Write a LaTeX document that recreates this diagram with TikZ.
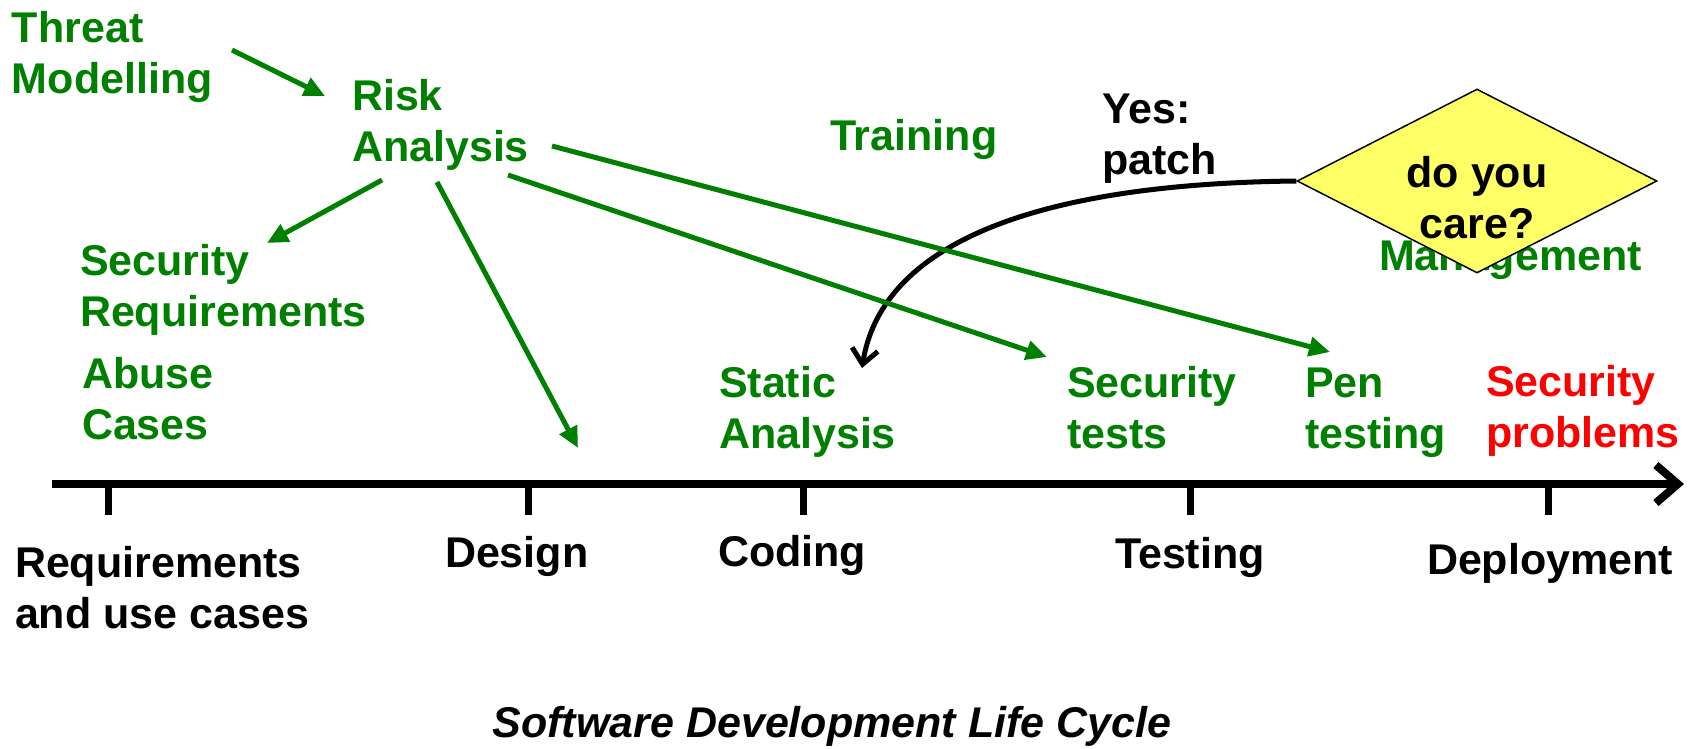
\documentclass[tikz,border=0pt]{standalone}
\usepackage{fontspec}
\setmainfont{Liberation Sans}
\usetikzlibrary{arrows.meta,shapes.geometric}
\definecolor{sdgreen}{RGB}{0,128,0}
\definecolor{sdred}{RGB}{255,0,0}
\definecolor{sdyellow}{RGB}{255,255,102}
% block of lines whose baseline is the first line
\newcommand{\leftlines}[1]{\begin{tabular}[t]{@{}l@{}}#1\end{tabular}}
\newcommand{\midlines}[1]{\begin{tabular}[t]{@{}c@{}}#1\end{tabular}}

\begin{document}
\begin{tikzpicture}[x=1pt,y=-1pt,
  lbl/.style={anchor=base west, inner sep=0pt, outer sep=0pt,
              font=\fontsize{43}{51}\selectfont\bfseries},
  grn/.style={lbl, text=sdgreen},
  blk/.style={lbl, text=black},
  redlbl/.style={lbl, text=sdred},
  garrow/.style={draw=sdgreen, line width=5pt,
                 -{Triangle[length=21pt,width=19pt]}},
  patcharrow/.style={draw=black, line width=5pt,
                 -{Straight Barb[length=15pt,width=26pt]}},
  axisline/.style={draw=black, line width=8pt,
                 -{Straight Barb[length=22pt,width=38pt]}},
  tick/.style={draw=black, line width=7pt},
  decision/.style={shape=diamond, draw=black, line width=1.5pt,
                 fill=sdyellow, minimum width=360pt, minimum height=184pt,
                 aspect=1.96, inner sep=0pt}
]
\useasboundingbox (0,0) rectangle (1694,748);

% activities above the time line
\node[grn] (threat)   at (12,42)   {\leftlines{Threat\\Modelling}};
\node[grn] (risk)     at (352,110) {\leftlines{Risk\\Analysis}};
\node[grn] (secreq)   at (80,275)  {\leftlines{Security\\Requirements}};
\node[grn] (abuse)    at (82,388)  {\leftlines{Abuse\\Cases}};
\node[grn] (training) at (830,150) {Training};
\node[blk] (yes)      at (1102,123) {\leftlines{Yes:\\patch}};
\node[grn] (mgmt)     at (1379,270) {Management};

% the decision box sits over the Management label
\node[decision] (care) at (1477,181) {};
\node[blk, anchor=base] (caretext) at (1477,187) {\midlines{do you\\care?}};

\node[grn] (static)   at (719,397)  {\leftlines{Static\\Analysis}};
\node[grn] (sectests) at (1067,397) {\leftlines{Security\\tests}};
\node[grn] (pen)      at (1305,397) {\leftlines{Pen\\testing}};
\node[redlbl] (problems) at (1486,396) {\leftlines{Security\\problems}};

% time line with its phase marks
\coordinate (axisL) at (52,484);
\coordinate (axisR) at (1684,484);
\draw[axisline] (axisL) -- (axisR);
\foreach \name/\x in {req/108, des/528, cod/803, tst/1190, dep/1548}{
  \coordinate (\name-top) at (\x,486);
  \coordinate (\name-bot) at (\x,515);
  \draw[tick] (\name-top) -- (\name-bot);
}

\node[blk] (requirements) at (15,577)   {\leftlines{Requirements\\and use cases}};
\node[blk] (design)       at (445,567)  {Design};
\node[blk] (coding)       at (718,566)  {Coding};
\node[blk] (testing)      at (1115,568) {Testing};
\node[blk] (deployment)   at (1427,574) {Deployment};

\node[anchor=base, inner sep=0pt,
      font=\fontsize{43}{50}\selectfont\bfseries\itshape] (sdlc)
      at (832,737) {Software Development Life Cycle};

% the patch loop back to coding
\coordinate (patchend) at (862,368);
\draw[patcharrow] (care.west) .. controls (1010,184) and (880,255) .. (patchend);

% arrows out of threat modelling and risk analysis
\coordinate (tm-out)  at (232,50);
\coordinate (ra-in)   at (325,96);
\coordinate (ra-sw)   at (382,180);
\coordinate (sr-in)   at (267,243);
\coordinate (ra-s)    at (437,182);
\coordinate (des-in)  at (578,448);
\coordinate (ra-se)   at (508,175);
\coordinate (st-in)   at (1047,357);
\coordinate (ra-e)    at (552,146);
\coordinate (pen-in)  at (1330,352);

\draw[garrow] (tm-out) -- (ra-in);
\draw[garrow] (ra-sw) -- (sr-in);
\draw[garrow] (ra-s) -- (des-in);
\draw[garrow] (ra-se) -- (st-in);
\draw[garrow] (ra-e) -- (pen-in);
\end{tikzpicture}
\end{document}
